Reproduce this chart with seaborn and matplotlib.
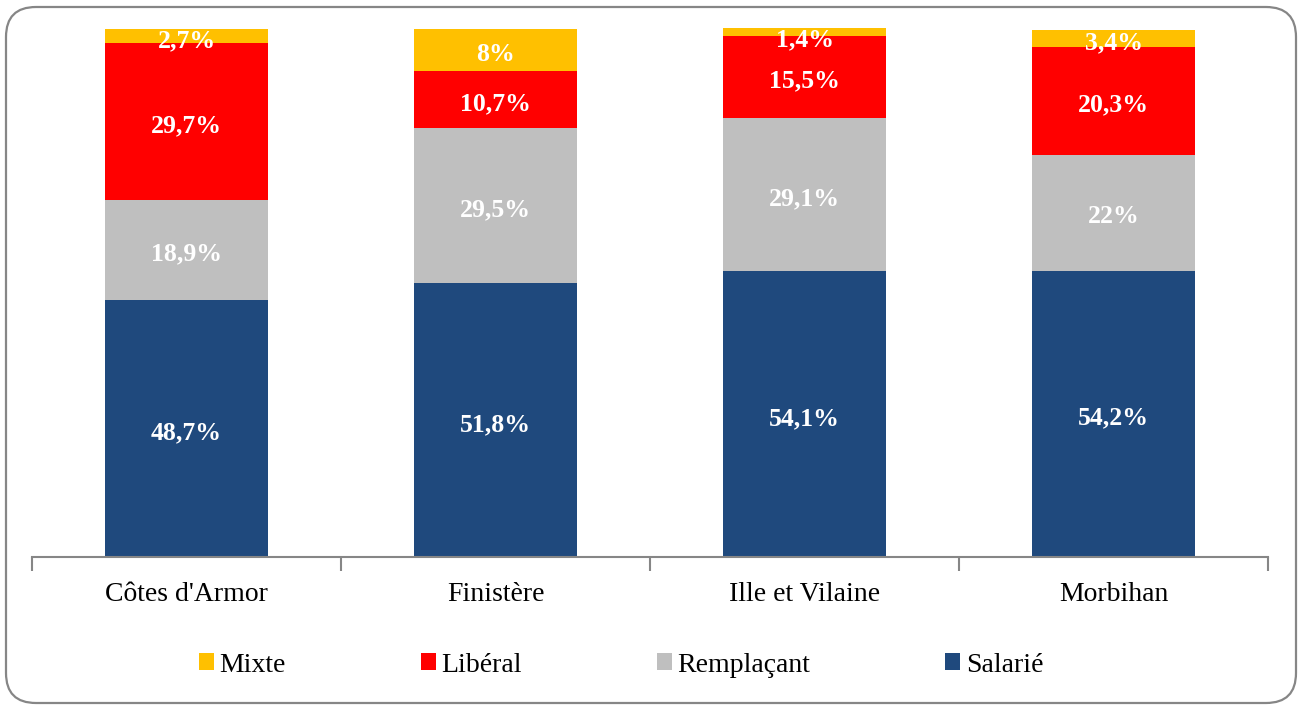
import pandas as pd
import seaborn as sns
import matplotlib.pyplot as plt
from matplotlib.patches import Patch, FancyBboxPatch

# Data (percent of each departement)
departements = ["Côtes d'Armor", "Finistère", "Ille et Vilaine", "Morbihan"]
salarie = [48.7, 51.8, 54.1, 54.2]
remplacant = [18.9, 29.5, 29.1, 22.0]
liberal = [29.7, 10.7, 15.5, 20.3]
mixte = [2.7, 8.0, 1.4, 3.4]

# bottom -> top stacking order
series = ["Salarié", "Remplaçant", "Libéral", "Mixte"]
colors = {"Salarié": "#1F497D", "Remplaçant": "#BFBFBF", "Libéral": "#FF0000", "Mixte": "#FFC000"}

df = pd.DataFrame({"Département": departements, "Salarié": salarie, "Remplaçant": remplacant,
                   "Libéral": liberal, "Mixte": mixte})
cum = df[series].cumsum(axis=1)

sns.set_theme(style="white")
plt.rcParams['font.family'] = ['Liberation Serif', 'DejaVu Serif']
plt.rcParams['text.color'] = 'black'

fig = plt.figure(figsize=(13.02, 7.05), dpi=100)
ax = fig.add_axes([32 / 1302, 148 / 705, 1236 / 1302, 528 / 705])

# Stacked bars: draw cumulative totals from the top series down
for name in reversed(series):
    sns.barplot(x=df["Département"], y=cum[name], color=colors[name], width=0.53,
                saturation=1, linewidth=0, ax=ax)
for p in ax.patches:
    p.set_clip_on(False)

# White bold value labels centred in each segment (small top ones pushed a bit down)
for i in range(len(df)):
    bottom = 0
    for name in series:
        v = df.loc[i, name]
        txt = f"{v:g}".replace(".", ",") + "%"
        y = min(bottom + v / 2 - 0.8, bottom + v - 2.2)
        ax.text(i, y, txt, ha="center", va="center", color="white",
                fontweight="bold", fontsize=18.5)
        bottom += v

ax.set_xlim(-0.5, len(df) - 0.5)
ax.set_ylim(0, 100)
ax.set_yticks([])
ax.set_xlabel("")
ax.set_ylabel("")
for s in ["top", "right", "left"]:
    ax.spines[s].set_visible(False)
ax.spines["bottom"].set_color("#868686")
ax.spines["bottom"].set_linewidth(1.5)

ax.set_xticks(range(len(df)))
ax.set_xticklabels(departements, fontsize=20, color="black")
ax.set_xticks([i - 0.5 for i in range(len(df) + 1)], minor=True)
ax.tick_params(axis="x", which="major", length=0, pad=18)
ax.tick_params(axis="x", which="minor", length=10, width=1.5, color="#868686", direction="out", bottom=True)

# Legend at the bottom
legend_order = ["Mixte", "Libéral", "Remplaçant", "Salarié"]
handles = [Patch(facecolor=colors[n], edgecolor="none") for n in legend_order]
leg = fig.legend(handles, legend_order, loc="center", bbox_to_anchor=(621 / 1302, 40 / 705), ncol=4,
                 frameon=False, fontsize=20, handlelength=0.55, handleheight=0.55,
                 handletextpad=0.2, columnspacing=4.85)
for t in leg.get_texts():
    t.set_color("black")

# Rounded chart border (pixel coordinates)
frame = FancyBboxPatch((6, 2), 1290, 696, boxstyle="round,pad=0,rounding_size=30",
                       transform=None, facecolor="none", edgecolor="#868686", linewidth=1.6)
fig.patches.append(frame)

fig.savefig("out.png", dpi=100)
